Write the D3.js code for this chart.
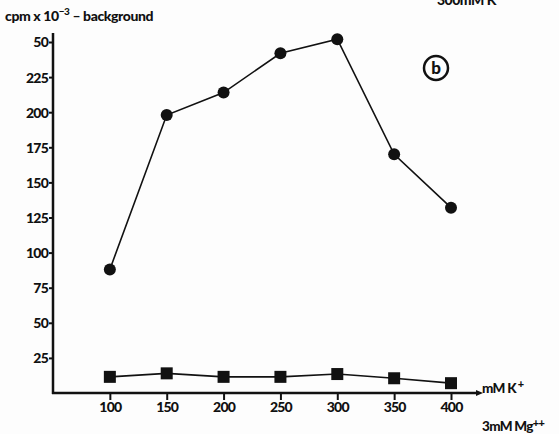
<!DOCTYPE html>
<html>
<head>
<meta charset="utf-8">
<script src="https://cdn.jsdelivr.net/npm/d3@7"></script>
<style>
  body { margin: 0; background: #fdfdfd; }
  text { font-family: "Lato", "Open Sans", sans-serif; font-weight: 900; fill: #111; }
</style>
</head>
<body>
<div id="chart"></div>
<script>
const kConc = [100, 150, 200, 250, 300, 350, 400];
const circleCpm = [88, 198, 214, 242, 252, 170, 132];
const squareCpm = [11.5, 14, 11.5, 11.5, 13.5, 10.5, 7];
const yTickValues = [25, 50, 75, 100, 125, 150, 175, 200, 225, 250];
const yTickLabels = ["25", "50", "75", "100", "125", "150", "175", "200", "225", "50"];

const width = 559, height = 434;

const svg = d3.select("#chart")
  .append("svg")
  .attr("width", width)
  .attr("height", height);

const x = d3.scaleLinear().domain([50, 400]).range([53, 451]);
const y = d3.scaleLinear().domain([0, 250]).range([393, 42]);

// axes
const yAxis = svg.append("g")
  .attr("transform", `translate(${x(50)},0)`)
  .call(d3.axisLeft(y).tickValues(yTickValues)
    .tickFormat((d, i) => yTickLabels[i]).tickSize(4).tickPadding(1));
yAxis.select(".domain").remove();
yAxis.selectAll("line").attr("stroke", "#111").attr("stroke-width", 2);
yAxis.selectAll("text").style("font-size", "14px").style("letter-spacing", "-0.8px").attr("dy", "0.35em");

const xAxis = svg.append("g")
  .attr("transform", `translate(0,${y(0)})`)
  .call(d3.axisBottom(x).tickValues(kConc).tickSize(7).tickPadding(2));
xAxis.select(".domain").remove();
xAxis.selectAll("line").attr("stroke", "#111").attr("stroke-width", 2);
xAxis.selectAll("text").style("font-size", "14px").style("letter-spacing", "-0.8px");

svg.append("line")
  .attr("x1", x(50)).attr("x2", x(50))
  .attr("y1", 33).attr("y2", y(0) + 1)
  .attr("stroke", "#111").attr("stroke-width", 2.5);
svg.append("line")
  .attr("x1", x(50) - 1).attr("x2", 476)
  .attr("y1", y(0)).attr("y2", y(0))
  .attr("stroke", "#111").attr("stroke-width", 2.5);
svg.append("path")
  .attr("d", `M476,${y(0) - 3}L483,${y(0)}L476,${y(0) + 3}Z`)
  .attr("fill", "#111");

// series
const line = d3.line()
  .x((d, i) => x(kConc[i]))
  .y(d => y(d));

svg.append("path")
  .datum(circleCpm)
  .attr("d", line)
  .attr("fill", "none")
  .attr("stroke", "#111")
  .attr("stroke-width", 1.6);

svg.selectAll(".dot")
  .data(circleCpm)
  .enter()
  .append("circle")
  .attr("cx", (d, i) => x(kConc[i]))
  .attr("cy", d => y(d))
  .attr("r", 6)
  .attr("fill", "#111");

svg.append("path")
  .datum(squareCpm)
  .attr("d", line)
  .attr("fill", "none")
  .attr("stroke", "#111")
  .attr("stroke-width", 1.6);

svg.selectAll(".sq")
  .data(squareCpm)
  .enter()
  .append("rect")
  .attr("x", (d, i) => x(kConc[i]) - 6)
  .attr("y", d => y(d) - 6)
  .attr("width", 12)
  .attr("height", 12)
  .attr("fill", "#111");

// labels
const yTitle = svg.append("text")
  .attr("x", 5).attr("y", 21)
  .style("font-size", "14px")
  .style("letter-spacing", "-0.4px");
yTitle.append("tspan").text("cpm x 10");
yTitle.append("tspan").attr("dy", -6).style("font-size", "10px").text("−3");
yTitle.append("tspan").attr("dy", 6).text(" – background");

svg.append("text")
  .attr("x", 437).attr("y", 5)
  .style("font-size", "14px")
  .style("letter-spacing", "-0.5px")
  .text("300mM K");

svg.append("circle")
  .attr("cx", 436).attr("cy", 68).attr("r", 12)
  .attr("fill", "none").attr("stroke", "#111").attr("stroke-width", 2.5);
svg.append("text")
  .attr("x", 436).attr("y", 74)
  .attr("text-anchor", "middle")
  .style("font-size", "17px")
  .text("b");

const kLabel = svg.append("text")
  .attr("x", 482).attr("y", 393)
  .style("font-size", "13.5px")
  .style("letter-spacing", "-0.7px");
kLabel.append("tspan").text("mM K");
kLabel.append("tspan").attr("dy", -5).style("font-size", "11px").text(" +");

const mgLabel = svg.append("text")
  .attr("x", 482).attr("y", 431)
  .style("font-size", "13.5px")
  .style("letter-spacing", "-0.7px");
mgLabel.append("tspan").text("3mM Mg");
mgLabel.append("tspan").attr("dy", -4).style("font-size", "11px").text("++");
</script>
</body>
</html>
